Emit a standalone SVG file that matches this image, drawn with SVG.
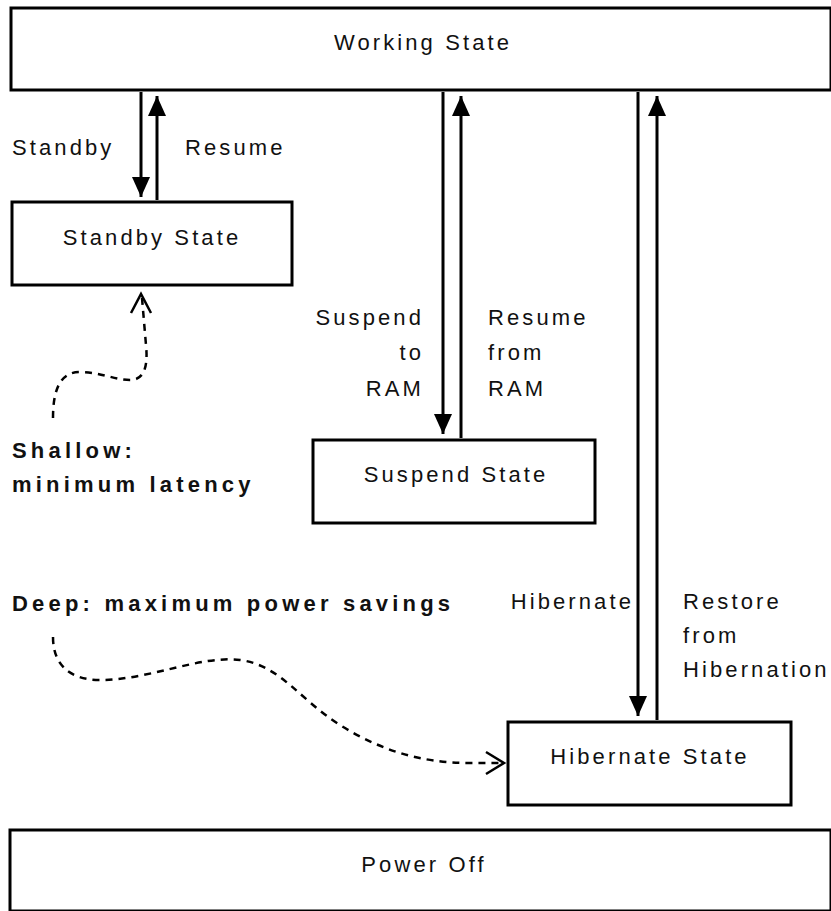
<svg xmlns="http://www.w3.org/2000/svg" width="831" height="911" viewBox="0 0 831 911">
  <style>
    .box { fill: #fff; stroke: #000; stroke-width: 3; }
    .lbl { font-family: "Liberation Sans", Arial, Helvetica, sans-serif; font-size: 22px; fill: #111; letter-spacing: 3.1px; }
    .bold { font-weight: bold; letter-spacing: 4.2px; }
    .mid { text-anchor: middle; }
    .end { text-anchor: end; }
    .shaft { stroke: #000; stroke-width: 3; fill: none; }
    .dash { stroke: #000; stroke-width: 2.5; fill: none; stroke-dasharray: 7 6; }
    .chev { stroke: #000; stroke-width: 2.5; fill: none; }
  </style>
  <defs>
    <marker id="head" viewBox="0 0 20 18" refX="20" refY="9" markerWidth="20" markerHeight="18" markerUnits="userSpaceOnUse" orient="auto">
      <path d="M0,0 L20,9 L0,18 Z" fill="#000"/>
    </marker>
  </defs>

  <rect width="831" height="911" fill="#fff"/>

  <g id="working-state">
    <rect class="box" x="11" y="8" width="820" height="82"/>
    <text class="lbl mid" x="423" y="50">Working State</text>
  </g>

  <g id="standby-state">
    <rect class="box" x="12" y="202" width="280" height="83"/>
    <text class="lbl mid" x="152" y="245">Standby State</text>
  </g>

  <g id="suspend-state">
    <rect class="box" x="313" y="440" width="282" height="83"/>
    <text class="lbl mid" x="456" y="482">Suspend State</text>
  </g>

  <g id="hibernate-state">
    <rect class="box" x="508" y="722" width="283" height="83"/>
    <text class="lbl mid" x="650" y="764">Hibernate State</text>
  </g>

  <g id="power-off">
    <rect class="box" x="10" y="830" width="821" height="81"/>
    <text class="lbl mid" x="424" y="872">Power Off</text>
  </g>

  <g id="connectors">
    <!-- Standby / Resume -->
    <line class="shaft" x1="141" y1="92" x2="141" y2="197" marker-end="url(#head)"/>
    <line class="shaft" x1="157" y1="200" x2="157" y2="96" marker-end="url(#head)"/>
    <!-- Suspend to RAM / Resume from RAM -->
    <line class="shaft" x1="443" y1="92" x2="443" y2="434" marker-end="url(#head)"/>
    <line class="shaft" x1="461" y1="438" x2="461" y2="96" marker-end="url(#head)"/>
    <!-- Hibernate / Restore -->
    <line class="shaft" x1="638" y1="92" x2="638" y2="716" marker-end="url(#head)"/>
    <line class="shaft" x1="657" y1="720" x2="657" y2="96" marker-end="url(#head)"/>

    <!-- shallow end of the scale -->
    <path class="dash" d="M53,418 C53,390 60,372 80,372 C100,372 115,380 130,380 C145,380 148,365 146,345 L142,298"/>
    <polyline class="chev" points="131,313 141,294 151,313"/>

    <!-- deep end of the scale -->
    <path class="dash" d="M53,637 C53,665 70,680 100,680 C150,680 200,655 240,660 C280,665 300,700 340,725 C380,750 420,763 470,763 L500,763"/>
    <polyline class="chev" points="486,752 504,763 486,774"/>
  </g>

  <g id="labels">
    <text class="lbl" x="12" y="155">Standby</text>
    <text class="lbl" x="185" y="155">Resume</text>

    <text class="lbl end" x="424" y="325">Suspend</text>
    <text class="lbl end" x="424" y="360">to</text>
    <text class="lbl end" x="424" y="396">RAM</text>
    <text class="lbl" x="488" y="325">Resume</text>
    <text class="lbl" x="488" y="360">from</text>
    <text class="lbl" x="488" y="396">RAM</text>

    <text class="lbl end" x="634" y="609">Hibernate</text>
    <text class="lbl" x="683" y="609">Restore</text>
    <text class="lbl" x="683" y="643">from</text>
    <text class="lbl" x="683" y="677">Hibernation</text>

    <text class="lbl bold" x="12" y="458">Shallow:</text>
    <text class="lbl bold" x="12" y="492">minimum latency</text>
    <text class="lbl bold" x="12" y="611">Deep: maximum power savings</text>
  </g>
</svg>
